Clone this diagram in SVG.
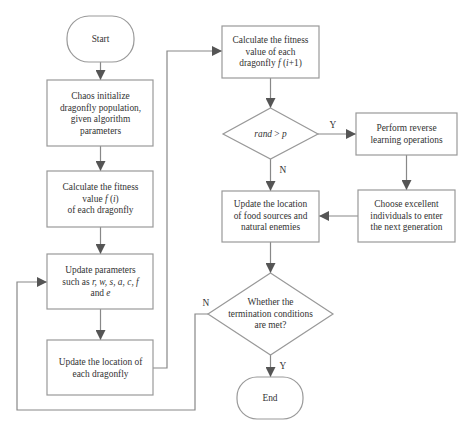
<svg xmlns="http://www.w3.org/2000/svg" width="474" height="436" viewBox="0 0 474 436">
<defs>
<marker id="ah" viewBox="0 0 10 10" refX="10" refY="5" markerWidth="10" markerHeight="10" markerUnits="userSpaceOnUse" orient="auto">
<path d="M0,0 L10,5 L0,10 Z" fill="#555"/>
</marker>
</defs>
<style>
.n{fill:#fff;stroke:#999;stroke-width:1.2}
.t{font-family:"Liberation Serif","Times New Roman",serif;font-size:9.4px;fill:#333;text-anchor:middle}
.c{fill:none;stroke:#888;stroke-width:1.2;marker-end:url(#ah)}
.it{font-style:italic}
</style>
<rect width="474" height="436" fill="#fff"/>
<g id="connectors">
<path class="c" d="M100.5,62 V80"/>
<path class="c" d="M100.5,146 V171"/>
<path class="c" d="M100.5,227 V254"/>
<path class="c" d="M100.5,309 V340"/>
<path class="c" d="M153,368 H167 V51 H222"/>
<path class="c" d="M270.5,78 V108"/>
<path class="c" d="M318,134 H356"/>
<path class="c" d="M406.5,155 V190"/>
<path class="c" d="M358,216 H319"/>
<path class="c" d="M270.5,159 V191"/>
<path class="c" d="M270.5,242 V273"/>
<path class="c" d="M270.5,355 V377"/>
<path class="c" d="M208,314 H195 V410 H17 V282 H47"/>
<text class="t" x="333" y="128">Y</text>
<text class="t" x="283" y="173">N</text>
<text class="t" x="206" y="306">N</text>
<text class="t" x="283" y="369">Y</text>
</g>
<g id="start">
<rect class="n" x="67" y="16" width="67" height="46" rx="22" ry="22"/>
<text class="t" x="100.5" y="41.5">Start</text>
</g>
<g id="init">
<rect class="n" x="47" y="80" width="106" height="66"/>
<text class="t" x="100.5" y="99">Chaos initialize</text>
<text class="t" x="100.5" y="110.5">dragonfly population,</text>
<text class="t" x="100.5" y="122">given algorithm</text>
<text class="t" x="100.5" y="133.5">parameters</text>
</g>
<g id="fitness1">
<rect class="n" x="47" y="171" width="106" height="56"/>
<text class="t" x="100.5" y="190">Calculate the fitness</text>
<text class="t" x="100.5" y="201.5">value <tspan class="it">f</tspan> (<tspan class="it">i</tspan>)</text>
<text class="t" x="100.5" y="213">of each dragonfly</text>
</g>
<g id="params">
<rect class="n" x="47" y="254" width="106" height="55"/>
<text class="t" x="100.5" y="273">Update parameters</text>
<text class="t" x="100.5" y="284.5">such as <tspan class="it">r, w, s, a, c, f</tspan></text>
<text class="t" x="100.5" y="296">and <tspan class="it">e</tspan></text>
</g>
<g id="updateloc">
<rect class="n" x="47" y="340" width="106" height="55"/>
<text class="t" x="100.5" y="365">Update the location of</text>
<text class="t" x="100.5" y="376.5">each dragonfly</text>
</g>
<g id="fitness2">
<rect class="n" x="222" y="26" width="97" height="52"/>
<text class="t" x="270.5" y="43">Calculate the fitness</text>
<text class="t" x="270.5" y="54.5">value of each</text>
<text class="t" x="270.5" y="66">dragonfly <tspan class="it">f</tspan> (<tspan class="it">i</tspan>+1)</text>
</g>
<g id="decision1">
<polygon class="n" points="270.5,108 318,134 270.5,159 223,134"/>
<text class="t" x="270.5" y="137"><tspan class="it">rand</tspan> &gt; <tspan class="it">p</tspan></text>
</g>
<g id="reverse">
<rect class="n" x="356" y="113" width="101" height="42"/>
<text class="t" x="406.5" y="131">Perform reverse</text>
<text class="t" x="406.5" y="142.5">learning operations</text>
</g>
<g id="choose">
<rect class="n" x="358" y="190" width="97" height="52"/>
<text class="t" x="406.5" y="207">Choose excellent</text>
<text class="t" x="406.5" y="218.5">individuals to enter</text>
<text class="t" x="406.5" y="230">the next generation</text>
</g>
<g id="food">
<rect class="n" x="222" y="191" width="97" height="51"/>
<text class="t" x="270.5" y="207">Update the location</text>
<text class="t" x="270.5" y="218.5">of food sources and</text>
<text class="t" x="270.5" y="230">natural enemies</text>
</g>
<g id="decision2">
<polygon class="n" points="270.5,273 333,314 270.5,355 208,314"/>
<text class="t" x="270.5" y="305">Whether the</text>
<text class="t" x="270.5" y="316.5">termination conditions</text>
<text class="t" x="270.5" y="328">are met?</text>
</g>
<g id="end">
<rect class="n" x="237" y="377" width="66" height="42" rx="20" ry="20"/>
<text class="t" x="270" y="401">End</text>
</g>
</svg>
